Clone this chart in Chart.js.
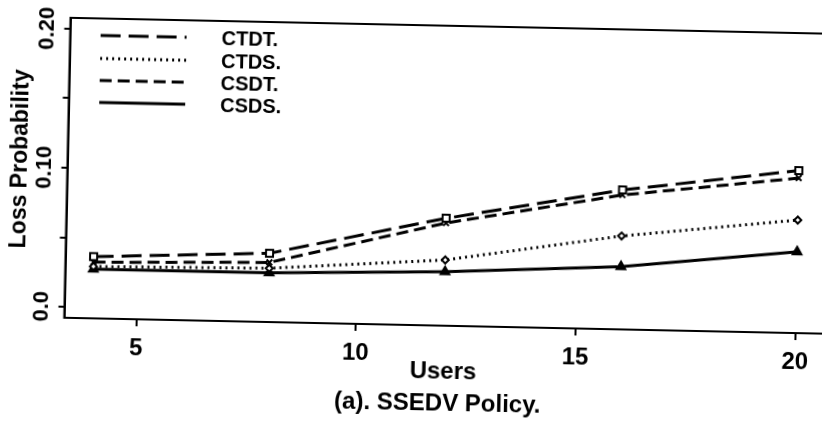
<!DOCTYPE html>
<html>
<head>
<meta charset="utf-8">
<script src="https://cdn.jsdelivr.net/npm/chart.js@4/dist/chart.umd.min.js"></script>
<style>
  html, body { margin: 0; padding: 0; background: #fff; overflow: hidden; width: 822px; height: 424px; }
  #wrap {
    position: absolute; left: 0; top: 0; width: 880px; height: 424px;
    transform-origin: 411px 212px;
    transform: rotate(1.2deg);
  }
</style>
</head>
<body>
<div id="wrap"><canvas id="lossChart" width="880" height="424"></canvas></div>
<script>
// Loss probability vs. number of users, SSEDV policy
const users = [4, 8, 12, 16, 20];
const lossCTDT = [0.0365, 0.0416, 0.0694, 0.0924, 0.1090];
const lossCTDS = [0.0294, 0.0308, 0.0394, 0.0593, 0.0734];
const lossCSDT = [0.0325, 0.0350, 0.0660, 0.0888, 0.1036];
const lossCSDS = [0.0275, 0.0275, 0.0310, 0.0372, 0.0506];

const seriesNames = ['CTDT.', 'CTDS.', 'CSDT.', 'CSDS.'];
const xTickValues = [5, 10, 15, 20];
const yTickValues = [0, 0.05, 0.10, 0.15, 0.20];
const yLabelValues = [0, 0.10, 0.20];
const yLabelTexts = ['0.0', '0.10', '0.20'];

const FONT = '"Liberation Sans", Arial, Helvetica, sans-serif';
const INK = '#000';

const toPoints = vals => users.map((u, i) => ({ x: u, y: vals[i] }));

// frame, rotated y labels, caption and the line-style key
const paperPlugin = {
    id: 'paper',
    afterDraw(chart) {
        const { ctx, chartArea: a, scales } = chart;
        const yScale = scales.y;
        ctx.save();

        // box round the plotting region
        ctx.strokeStyle = INK;
        ctx.lineWidth = 2;
        ctx.strokeRect(a.left, a.top, a.right - a.left, a.bottom - a.top);

        // y tick labels, written upward
        ctx.fillStyle = INK;
        ctx.font = 'bold 22px ' + FONT;
        ctx.textAlign = 'center';
        ctx.textBaseline = 'middle';
        yLabelValues.forEach((v, i) => {
            const py = yScale.getPixelForValue(v);
            ctx.save();
            ctx.translate(44, py);
            ctx.rotate(-Math.PI / 2);
            ctx.fillText(yLabelTexts[i], 0, 0);
            ctx.restore();
        });

        // y axis title
        ctx.save();
        ctx.font = 'bold 23px ' + FONT;
        ctx.translate(20, 167);
        ctx.rotate(-Math.PI / 2);
        ctx.fillText('Loss Probability', 0, 0);
        ctx.restore();

        // caption under the axis title, centred on the plot
        ctx.font = 'bold 24px ' + FONT;
        ctx.fillText('(a). SSEDV Policy.', (a.left + a.right) / 2 - 5, 403);

        // key: line sample then name
        const rows = [42, 65, 87, 109];
        ctx.font = 'bold 20px ' + FONT;
        ctx.textAlign = 'left';
        chart.data.datasets.forEach((ds, i) => {
            ctx.save();
            ctx.strokeStyle = ds.borderColor;
            ctx.lineWidth = ds.borderWidth;
            ctx.setLineDash(ds.borderDash || []);
            ctx.beginPath();
            ctx.moveTo(97, rows[i]);
            ctx.lineTo(183, rows[i]);
            ctx.stroke();
            ctx.restore();
            ctx.fillText(ds.label, 218, rows[i] + 1);
        });

        ctx.restore();
    }
};

const lineSet = (label, vals, dash, pointStyle, radius, fill) => ({
    label: label,
    data: toPoints(vals),
    borderColor: INK,
    borderWidth: 3,
    borderDash: dash,
    pointStyle: pointStyle,
    pointRadius: radius,
    pointBorderWidth: 2,
    pointBorderColor: INK,
    pointBackgroundColor: fill,
    tension: 0,
    fill: false
});

new Chart(document.getElementById('lossChart'), {
    type: 'line',
    data: {
        datasets: [
            lineSet(seriesNames[0], lossCTDT, [20, 8], 'rect', 5, '#fff'),
            lineSet(seriesNames[1], lossCTDS, [2, 4], 'rectRot', 3.5, '#fff'),
            lineSet(seriesNames[2], lossCSDT, [12, 6], 'crossRot', 4, '#fff'),
            lineSet(seriesNames[3], lossCSDS, [], 'triangle', 5, INK)
        ]
    },
    options: {
        responsive: false,
        animation: false,
        devicePixelRatio: 1,
        layout: { padding: { top: 25, right: 54, left: 0, bottom: 36 } },
        plugins: {
            legend: { display: false },
            tooltip: { enabled: false },
            title: { display: false }
        },
        scales: {
            x: {
                type: 'linear',
                min: 3.36,
                max: 20.64,
                afterBuildTicks: s => { s.ticks = xTickValues.map(v => ({ value: v })); },
                afterFit: s => { s.height = 63; },
                grid: { drawOnChartArea: false, drawTicks: true, tickLength: 7, color: INK, lineWidth: 2 },
                border: { display: true, color: INK, width: 2 },
                ticks: {
                    color: INK,
                    padding: 8,
                    maxRotation: 0,
                    font: { family: FONT, size: 24, weight: 'bold' }
                },
                title: {
                    display: true,
                    text: 'Users',
                    color: INK,
                    font: { family: FONT, size: 24, weight: 'bold', lineHeight: 1.2 },
                    padding: { top: 0, bottom: 2 }
                }
            },
            y: {
                type: 'linear',
                min: -0.0079,
                max: 0.2079,
                afterBuildTicks: s => { s.ticks = yTickValues.map(v => ({ value: v })); },
                afterFit: s => { s.width = 66.5; },
                grid: { drawOnChartArea: false, drawTicks: true, tickLength: 6, color: INK, lineWidth: 2 },
                border: { display: true, color: INK, width: 2 },
                ticks: { display: false }
            }
        }
    },
    plugins: [paperPlugin]
});
</script>
</body>
</html>
